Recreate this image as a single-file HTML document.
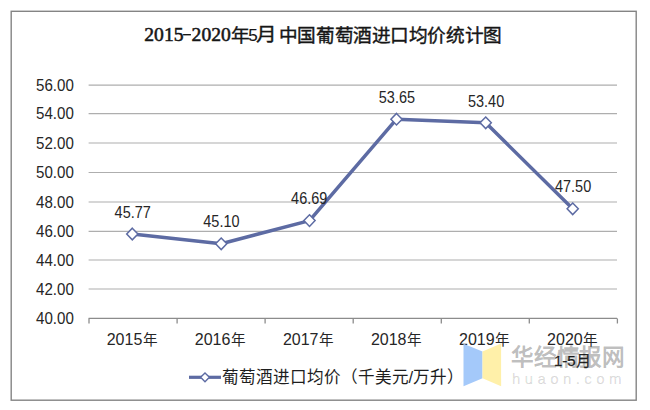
<!DOCTYPE html>
<html lang="zh-CN"><head><meta charset="utf-8">
<style>
html,body{margin:0;padding:0;background:#fff;width:650px;height:410px;overflow:hidden}
svg{display:block}
text{font-family:"Liberation Sans",sans-serif}
</style></head>
<body>
<svg width="650" height="410" viewBox="0 0 650 410">
<rect x="11.2" y="11.3" width="625" height="388.9" fill="#fff" stroke="#848484" stroke-width="1.4"/>
<g fill="#161616">
<text x="144.3" y="40.8" font-size="19.6" stroke="#161616" stroke-width="0.55" style="font-family:'Liberation Serif',serif">2015</text>
<rect x="183.1" y="34" width="7.8" height="1.4"/>
<text x="191.6" y="40.8" font-size="19.6" stroke="#161616" stroke-width="0.55" style="font-family:'Liberation Serif',serif">2020</text>
<g stroke="#161616" stroke-width="0.4">
<text x="231.2" y="41.5" font-size="18.67">年</text>
<text x="248.2" y="41" font-size="17" stroke-width="0.15">5</text>
<text x="255.6" y="41.5" font-size="18.67" textLength="18.67" lengthAdjust="spacingAndGlyphs" transform="translate(255.6 0) scale(1.08 1) translate(-255.6 0)">月</text>
<text x="278.8" y="41.5" font-size="18.67" letter-spacing="-0.42">中国葡萄酒进口均价统计图</text>
</g></g>
<g stroke="#aeaeae" stroke-width="1.2">
<line x1="88.6" y1="85.20" x2="617.0" y2="85.20"/>
<line x1="88.6" y1="113.60" x2="617.0" y2="113.60"/>
<line x1="88.6" y1="143.00" x2="617.0" y2="143.00"/>
<line x1="88.6" y1="172.50" x2="617.0" y2="172.50"/>
<line x1="88.6" y1="202.00" x2="617.0" y2="202.00"/>
<line x1="88.6" y1="231.30" x2="617.0" y2="231.30"/>
<line x1="88.6" y1="260.00" x2="617.0" y2="260.00"/>
<line x1="88.6" y1="289.00" x2="617.0" y2="289.00"/>
</g>
<g stroke="#8c8c8c" stroke-width="1.3" fill="none">
<line x1="88.6" y1="318.40" x2="617.0" y2="318.40"/>
<line x1="89.0" y1="318.40" x2="89.0" y2="323.5"/>
<line x1="177.1" y1="318.40" x2="177.1" y2="323.5"/>
<line x1="265.1" y1="318.40" x2="265.1" y2="323.5"/>
<line x1="353.2" y1="318.40" x2="353.2" y2="323.5"/>
<line x1="441.3" y1="318.40" x2="441.3" y2="323.5"/>
<line x1="529.3" y1="318.40" x2="529.3" y2="323.5"/>
<line x1="617.4" y1="318.40" x2="617.4" y2="323.5"/>
</g>
<g font-size="15.8" fill="#262626">
<text x="36" y="90.90" textLength="37.8" lengthAdjust="spacingAndGlyphs">56.00</text>
<text x="36" y="119.30" textLength="37.8" lengthAdjust="spacingAndGlyphs">54.00</text>
<text x="36" y="148.70" textLength="37.8" lengthAdjust="spacingAndGlyphs">52.00</text>
<text x="36" y="178.20" textLength="37.8" lengthAdjust="spacingAndGlyphs">50.00</text>
<text x="36" y="207.70" textLength="37.8" lengthAdjust="spacingAndGlyphs">48.00</text>
<text x="36" y="237.00" textLength="37.8" lengthAdjust="spacingAndGlyphs">46.00</text>
<text x="36" y="265.70" textLength="37.8" lengthAdjust="spacingAndGlyphs">44.00</text>
<text x="36" y="294.70" textLength="37.8" lengthAdjust="spacingAndGlyphs">42.00</text>
<text x="36" y="324.10" textLength="37.8" lengthAdjust="spacingAndGlyphs">40.00</text>
</g>
<g font-size="16" fill="#262626" text-anchor="middle">
<text x="132.4" y="344.8">2015<tspan font-size="14.6" dx="0.8">年</tspan></text>
<text x="220.5" y="344.8">2016<tspan font-size="14.6" dx="0.8">年</tspan></text>
<text x="308.6" y="344.8">2017<tspan font-size="14.6" dx="0.8">年</tspan></text>
<text x="396.6" y="344.8">2018<tspan font-size="14.6" dx="0.8">年</tspan></text>
<text x="484.7" y="344.8">2019<tspan font-size="14.6" dx="0.8">年</tspan></text>
<text x="572.8" y="344.8">2020<tspan font-size="14.6" dx="0.8">年</tspan></text>
</g>
<polyline points="132.3,234.0 221.2,243.8 309.5,220.6 396.5,119.2 485.7,122.8 572.7,208.8" fill="none" stroke="#5d6ba3" stroke-width="3.5" stroke-linejoin="round"/>
<g fill="#fff" stroke="#5d6ba3" stroke-width="1.5">
<path d="M132.3,228.2 L137.9,234.0 L132.3,239.8 L126.7,234.0Z"/>
<path d="M221.2,238.0 L226.8,243.8 L221.2,249.6 L215.6,243.8Z"/>
<path d="M309.5,214.8 L315.1,220.6 L309.5,226.4 L303.9,220.6Z"/>
<path d="M396.5,113.4 L402.1,119.2 L396.5,125.0 L390.9,119.2Z"/>
<path d="M485.7,117.0 L491.3,122.8 L485.7,128.6 L480.1,122.8Z"/>
<path d="M572.7,203.0 L578.3,208.8 L572.7,214.6 L567.1,208.8Z"/>
</g>
<g font-size="15.6" fill="#262626" text-anchor="middle">
<text x="132.7" y="217.9" textLength="36.2" lengthAdjust="spacingAndGlyphs">45.77</text>
<text x="221.4" y="226.9" textLength="36.2" lengthAdjust="spacingAndGlyphs">45.10</text>
<text x="309.2" y="204.1" textLength="36.2" lengthAdjust="spacingAndGlyphs">46.69</text>
<text x="396.9" y="103.3" textLength="36.2" lengthAdjust="spacingAndGlyphs">53.65</text>
<text x="486.1" y="106.9" textLength="36.2" lengthAdjust="spacingAndGlyphs">53.40</text>
<text x="573.1" y="191.7" textLength="36.2" lengthAdjust="spacingAndGlyphs">47.50</text>
</g>
<line x1="189" y1="377.3" x2="221" y2="377.3" stroke="#5d6ba3" stroke-width="3.2"/>
<path d="M205,372.9 L209.4,377.3 L205,381.7 L200.6,377.3Z" fill="#fff" stroke="#5d6ba3" stroke-width="1.4"/>
<text x="221.6" y="383.4" font-size="16.6" fill="#1e1e1e">葡萄酒进口均价（千美元/万升）</text>
<text x="572.3" y="366.3" font-size="15" fill="#262626" text-anchor="middle" stroke="#262626" stroke-width="0.25">1-5月</text>
<path d="M463.5,343.8 L482.5,351.4 L482.5,378.2 L463.5,386.2Z" fill="#a4c9fa"/>
<path d="M482.5,351.4 L501.1,343.5 L501.1,386.2 L482.5,378.2Z" fill="#fff0a9"/>
<text x="510.8" y="365" font-size="22.6" font-weight="bold" fill="#000" fill-opacity="0.27" letter-spacing="-0.1">华经情报网</text>
<text x="512" y="384.2" font-size="15" fill="#000" fill-opacity="0.12" stroke="#000" stroke-opacity="0.08" stroke-width="0.6" letter-spacing="4.4">huaon.com</text>
</svg>
</body></html>
